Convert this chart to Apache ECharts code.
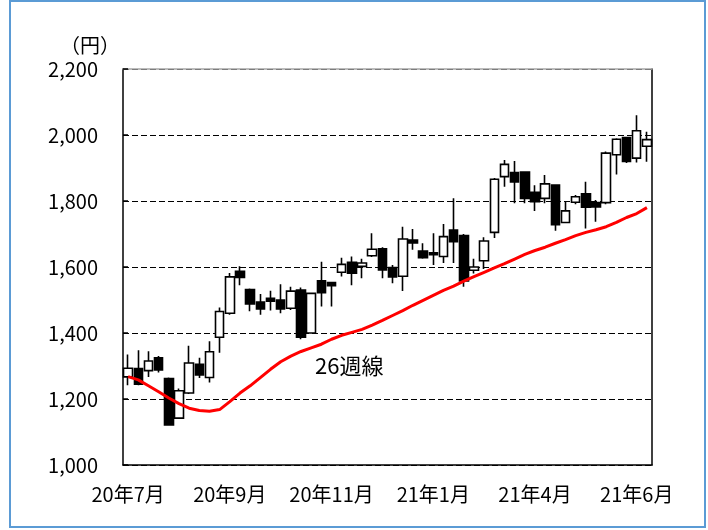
<!DOCTYPE html>
<html>
<head>
<meta charset="utf-8">
<script src="https://cdn.jsdelivr.net/npm/echarts@6/dist/echarts.min.js"></script>
<style>
  html, body { margin: 0; padding: 0; background: #fff; }
  #chart { width: 708px; height: 530px; }
</style>
</head>
<body>
<div id="chart"></div>
<script>
// 週足 (52本) 20年7月〜21年6月
var labelAt = [0, 10, 20, 30, 40, 50];
var labelText = ['20年7月', '20年9月', '20年11月', '21年1月', '21年4月', '21年6月'];

var open = [1267, 1292, 1286, 1325, 1262, 1142, 1218, 1305, 1265, 1387,
            1460, 1587, 1532, 1494, 1505, 1500, 1475, 1530, 1400, 1558,
            1553, 1584, 1614, 1602, 1634, 1655, 1598, 1572, 1682, 1648,
            1643, 1632, 1712, 1695, 1590, 1619, 1705, 1874, 1886, 1888,
            1826, 1808, 1848, 1735, 1796, 1822, 1795, 1795, 1940, 1992,
            1930, 1966];
var close = [1293, 1245, 1315, 1288, 1121, 1225, 1309, 1273, 1343, 1465,
             1570, 1568, 1488, 1473, 1496, 1473, 1527, 1387, 1520, 1522,
             1543, 1608, 1581, 1612, 1654, 1591, 1570, 1685, 1673, 1628,
             1637, 1692, 1677, 1558, 1600, 1679, 1866, 1911, 1858, 1808,
             1798, 1852, 1728, 1770, 1813, 1781, 1782, 1945, 1987, 1920,
             2013, 1986];
var low = [1242, 1242, 1267, 1280, 1119, 1140, 1215, 1264, 1250, 1340,
           1455, 1545, 1466, 1455, 1468, 1460, 1470, 1381, 1398, 1480,
           1480, 1571, 1545, 1566, 1630, 1566, 1551, 1527, 1652, 1625,
           1606, 1612, 1612, 1540, 1580, 1594, 1688, 1843, 1793, 1793,
           1770, 1793, 1710, 1733, 1790, 1717, 1737, 1790, 1880, 1915,
           1917, 1919];
var high = [1335, 1348, 1345, 1330, 1265, 1232, 1361, 1325, 1375, 1477,
            1582, 1602, 1535, 1518, 1528, 1548, 1540, 1538, 1522, 1616,
            1555, 1628, 1632, 1625, 1702, 1660, 1606, 1722, 1715, 1672,
            1702, 1730, 1808, 1700, 1625, 1690, 1870, 1924, 1921, 1890,
            1848, 1879, 1850, 1800, 1818, 1858, 1803, 1950, 1990, 1995,
            2060, 2010];
// 26週移動平均
var ma26 = [1268, 1258, 1240, 1222, 1203, 1186, 1172, 1165, 1163, 1168,
            1192, 1218, 1240, 1265, 1290, 1313, 1330, 1344, 1355, 1366,
            1381, 1393, 1402, 1411, 1424, 1438, 1453, 1468, 1484, 1499,
            1514, 1529, 1542, 1557, 1571, 1584, 1597, 1610, 1624, 1638,
            1650, 1660, 1672, 1683, 1695, 1705, 1713, 1722, 1735, 1750,
            1762, 1780];

var yMin = 1000, yMax = 2200, yStep = 200;

var weeks = [];
var candles = [];
for (var i = 0; i < open.length; i++) {
    weeks.push('w' + i);
    candles.push([open[i], close[i], low[i], high[i]]);
}
function showAt(idx) { return labelAt.indexOf(idx) >= 0; }

var FONT = '"Noto Sans CJK JP", sans-serif';

var chart = echarts.init(document.getElementById('chart'), null, { renderer: 'canvas' });
chart.setOption({
    animation: false,
    backgroundColor: '#fff',
    grid: { left: 123, right: 56, top: 69, bottom: 65 },
    xAxis: [{
        type: 'category',
        data: weeks,
        boundaryGap: true,
        axisLine: { lineStyle: { color: '#000', width: 1.5 } },
        axisTick: { inside: true, length: 7, interval: function (idx) { return showAt(idx); },
                    lineStyle: { color: '#000', width: 1.5 } },
        axisLabel: {
            interval: function (idx) { return showAt(idx); },
            formatter: function (v, idx) { return labelText[labelAt.indexOf(idx)] || ''; },
            color: '#000', fontSize: 20, fontFamily: FONT, margin: 19
        },
        splitLine: { show: false }
    }, {
        type: 'category',
        data: weeks,
        position: 'top',
        axisLine: { lineStyle: { color: '#a6a6a6', width: 1.5 } },
        axisTick: { show: false },
        axisLabel: { show: false }
    }],
    yAxis: [{
        type: 'value',
        min: yMin, max: yMax, interval: yStep,
        name: '（円）',
        nameLocation: 'end',
        nameGap: 14,
        nameTextStyle: { color: '#000', fontSize: 20, fontFamily: FONT, align: 'center', padding: [0, 66, 0, 0] },
        axisLine: { show: true, lineStyle: { color: '#000', width: 1.5 } },
        axisTick: { show: true, inside: true, length: 5, lineStyle: { color: '#000', width: 1.5 } },
        axisLabel: {
            color: '#000', fontSize: 20, fontFamily: FONT, margin: 25,
            formatter: function (v) { return v.toLocaleString('en-US'); }
        },
        splitLine: { show: true, lineStyle: { color: '#000', width: 1.2, type: [6, 3] } }
    }, {
        type: 'value',
        min: yMin, max: yMax, interval: yStep,
        position: 'right',
        axisLine: { show: true, lineStyle: { color: '#000', width: 1.5 } },
        axisTick: { show: false },
        axisLabel: { show: false },
        splitLine: { show: false }
    }],
    series: [{
        name: '株価',
        type: 'candlestick',
        data: candles,
        barWidth: 9,
        itemStyle: {
            color: '#fff', color0: '#000',
            borderColor: '#000', borderColor0: '#000',
            borderWidth: 1.6
        }
    }, {
        name: '26週線',
        type: 'line',
        data: ma26,
        symbol: 'none',
        lineStyle: { color: '#ff0000', width: 3 },
        z: 5
    }],
    graphic: [{
        type: 'text',
        x: 315, y: 355,
        style: { text: '26週線', fill: '#000', font: 'normal 22px "Noto Sans CJK JP"' }
    }, {
        type: 'rect',
        shape: { x: 10, y: 1, width: 695, height: 526 },
        style: { fill: 'none', stroke: '#5b9bd5', lineWidth: 2 },
        silent: true
    }]
});
</script>
</body>
</html>
